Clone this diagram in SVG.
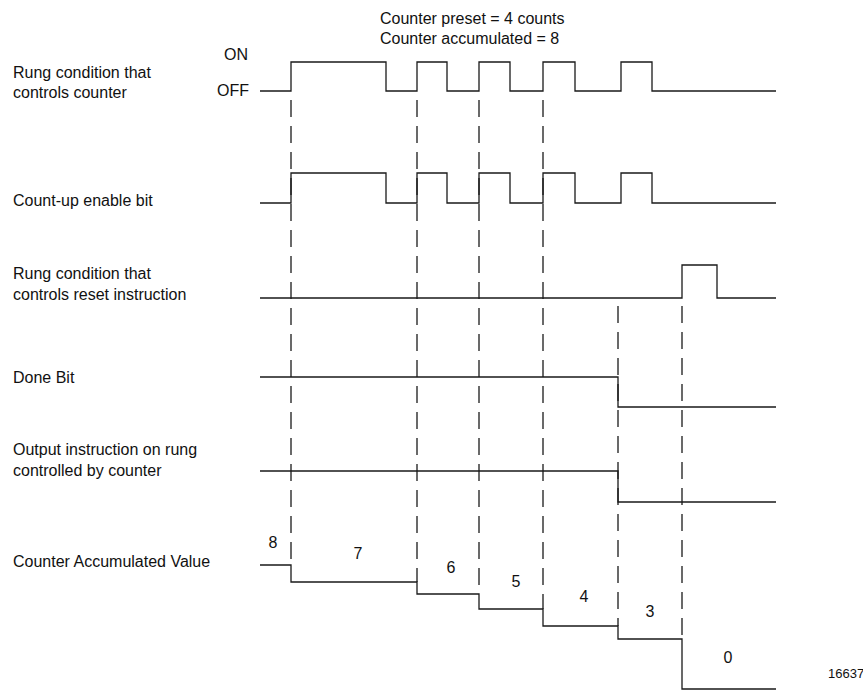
<svg xmlns="http://www.w3.org/2000/svg" width="863" height="690" viewBox="0 0 863 690">
<style>
text{font-family:"Liberation Sans",Arial,sans-serif;font-size:16px;fill:#111}
.sig{fill:none;stroke:#1a1a1a;stroke-width:1.3}
.guide{fill:none;stroke:#1a1a1a;stroke-width:1.3;stroke-dasharray:17 9}
.small{font-size:13px}
</style>
<rect width="863" height="690" fill="#fff"/>
<g id="header">
<text x="380" y="24">Counter preset = 4 counts</text>
<text x="380" y="44">Counter accumulated = 8</text>
</g>
<g id="rung-counter">
<text x="13" y="78">Rung condition that</text>
<text x="13" y="98">controls counter</text>
<text x="248" y="60" text-anchor="end">ON</text>
<text x="249" y="96" text-anchor="end">OFF</text>
<path class="sig" d="M260,91 H291 V62 H386 V91 H417 V62 H447 V91 H479 V62 H510 V91 H543 V62 H575 V91 H621 V62 H652 V91 H776"/>
</g>
<g id="count-up-enable">
<text x="13" y="206">Count-up enable bit</text>
<path class="sig" d="M260,203 H291 V173 H386 V203 H417 V173 H447 V203 H479 V173 H510 V203 H543 V173 H575 V203 H621 V173 H652 V203 H776"/>
</g>
<g id="rung-reset">
<text x="13" y="279">Rung condition that</text>
<text x="13" y="300">controls reset instruction</text>
<path class="sig" d="M260,298 H682 V265 H717 V298 H776"/>
</g>
<g id="done-bit">
<text x="13" y="383">Done Bit</text>
<path class="sig" d="M260,377 H618 V407 H776"/>
</g>
<g id="output-instruction">
<text x="13" y="455">Output instruction on rung</text>
<text x="13" y="476">controlled by counter</text>
<path class="sig" d="M260,471 H618 V502 H776"/>
</g>
<g id="accumulated-value">
<text x="13" y="567">Counter Accumulated Value</text>
<path class="sig" d="M260,565 H291 V582 H417 V594 H479 V609 H543 V626 H618 V639 H682 V689 H776"/>
<text x="273" y="548" text-anchor="middle">8</text>
<text x="358" y="559" text-anchor="middle">7</text>
<text x="451" y="573" text-anchor="middle">6</text>
<text x="516" y="587" text-anchor="middle">5</text>
<text x="584" y="602" text-anchor="middle">4</text>
<text x="650" y="617" text-anchor="middle">3</text>
<text x="728" y="663" text-anchor="middle">0</text>
</g>
<g id="guides">
<path class="guide" d="M291,100 V565"/>
<path class="guide" d="M417,100 V582"/>
<path class="guide" d="M479,100 V594"/>
<path class="guide" d="M543,100 V609"/>
<path class="guide" d="M618,306 V626"/>
<path class="guide" d="M682,306 V639"/>
</g>
<text class="small" x="828" y="678">16637</text>
</svg>
